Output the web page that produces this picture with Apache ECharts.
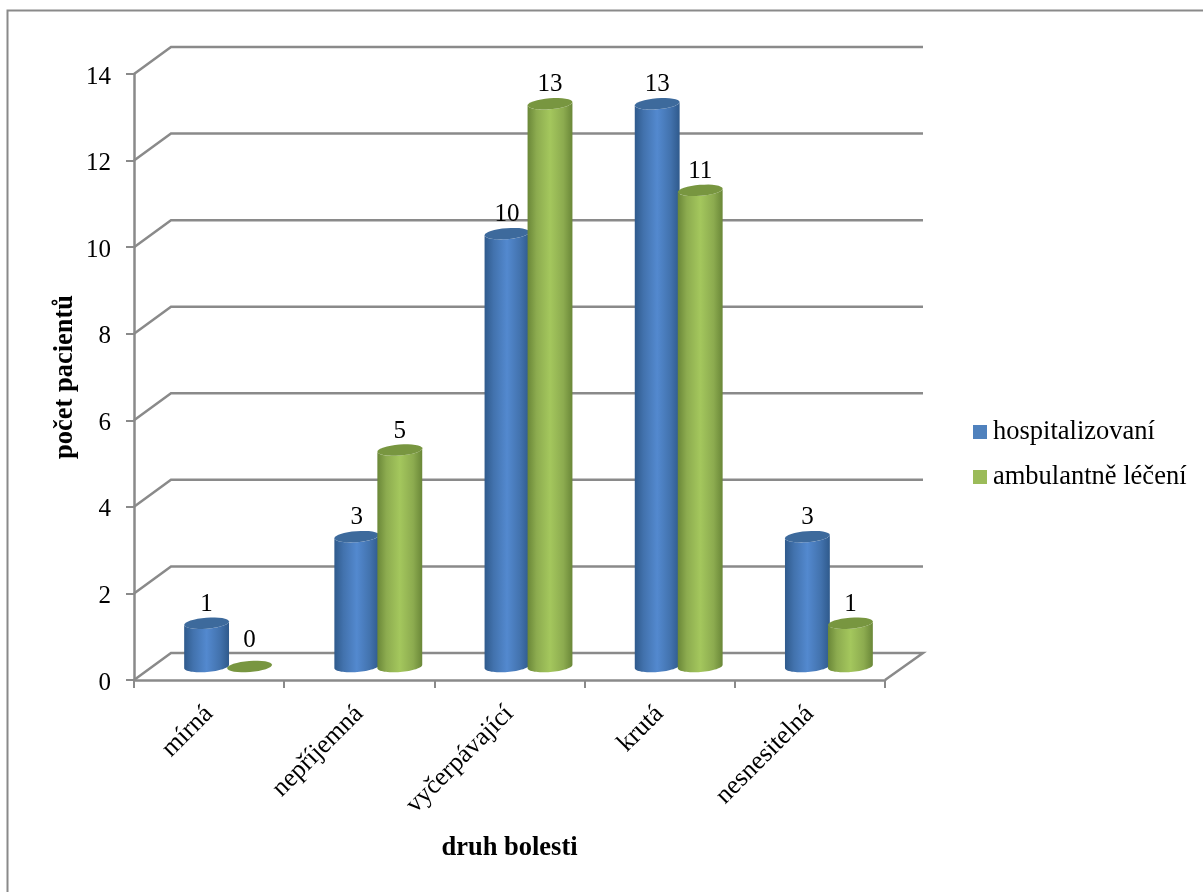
<!DOCTYPE html>
<html>
<head>
<meta charset="utf-8">
<style>html,body{margin:0;padding:0;background:#fff}#chart{width:1203px;height:892px}</style>
<script src="https://cdn.jsdelivr.net/npm/echarts@6/dist/echarts.min.js"></script>
</head>
<body>
<div id="chart"></div>
<script>
// Pain type vs. number of patients, drawn as pseudo-3D cylinders
const categories = ['mírná', 'nepříjemná', 'vyčerpávající', 'krutá', 'nesnesitelná'];
const hospitalizovani = [1, 3, 10, 13, 3];
const ambulantne = [0, 5, 13, 11, 1];
const gridValues = [0, 2, 4, 6, 8, 10, 12, 14];

const FONT = '"Liberation Serif", "Times New Roman", serif';
const AXIS = '#8a8a8a';
const WALL_DX = 37, WALL_DY = -27;      // back wall shift of the fake 3D box
const BAR_DX = 19, BAR_DY = -13.5;      // bars stand in the middle of the floor
const RX = 22.5, RY = 5.5, TILT = -4.5 * Math.PI / 180;

// Points on a tilted ellipse between two angles
function arc(cx, cy, from, to) {
  const pts = [], n = 32;
  for (let i = 0; i <= n; i++) {
    const a = from + (to - from) * i / n;
    const x = RX * Math.cos(a), y = RY * Math.sin(a);
    pts.push([cx + x * Math.cos(TILT) - y * Math.sin(TILT),
              cy + x * Math.sin(TILT) + y * Math.cos(TILT)]);
  }
  return pts;
}

function cylinderSeries(name, values, shift, capColor, stops) {
  return {
    name, type: 'custom', data: values.map((v, i) => [i, v]),
    encode: { x: 0, y: 1 }, clip: false, z: 3,
    itemStyle: { color: stops.legend },
    renderItem(params, api) {
      const v = api.value(1);
      const top = api.coord([api.value(0), v]);
      const base = api.coord([api.value(0), 0]);
      const cx = top[0] + BAR_DX + shift;
      const yTop = top[1] + BAR_DY, yBase = base[1] + BAR_DY;
      const children = [];
      if (v > 0) {
        children.push({
          type: 'polygon',
          shape: { points: arc(cx, yBase, Math.PI, 0).reverse().concat(arc(cx, yTop, 0, Math.PI).reverse()) },
          style: { fill: { type: 'linear', x: 0, y: 0, x2: 1, y2: 0, colorStops: stops.body } }
        });
      }
      children.push({
        type: 'polygon',
        shape: { points: arc(cx, yTop, 0, 2 * Math.PI) },
        style: { fill: capColor }
      });
      children.push({
        type: 'text',
        style: {
          x: cx, y: yTop - (v > 0 ? 19 : 26), text: String(v),
          font: '25px ' + FONT, fill: '#000', align: 'center', verticalAlign: 'middle'
        }
      });
      return { type: 'group', children };
    }
  };
}

const blueStops = {
  legend: '#4f81bd',
  body: [
    { offset: 0, color: '#2f5a8c' }, { offset: 0.2, color: '#4272ad' },
    { offset: 0.5, color: '#5389cf' }, { offset: 0.8, color: '#4272ad' },
    { offset: 1, color: '#2f5a8c' }
  ]
};
const greenStops = {
  legend: '#9bbb59',
  body: [
    { offset: 0, color: '#6a8738' }, { offset: 0.2, color: '#8cab4f' },
    { offset: 0.5, color: '#a4c75d' }, { offset: 0.8, color: '#8cab4f' },
    { offset: 1, color: '#6a8738' }
  ]
};

const chart = echarts.init(document.getElementById('chart'), null, { renderer: 'canvas' });
chart.setOption({
  animation: false,
  backgroundColor: '#fff',
  graphic: [{
    type: 'polyline', silent: true,
    shape: { points: [[7.5, 892], [7.5, 10.5], [1203, 10.5]] },
    style: { stroke: AXIS, lineWidth: 2, fill: 'none' }
  }],
  grid: { left: 134, top: 74, width: 751, height: 606, containLabel: false },
  legend: {
    show: true, orient: 'vertical', left: 968, top: 412,
    itemWidth: 14, itemHeight: 14, itemGap: 15, icon: 'rect',
    data: ['hospitalizovaní', 'ambulantně léčení'],
    textStyle: { fontFamily: FONT, fontSize: 26.5, color: '#000', padding: [0, 0, 0, 1], lineHeight: 30 }
  },
  xAxis: {
    type: 'category', data: categories,
    name: 'druh bolesti', nameLocation: 'middle', nameGap: 155,
    nameTextStyle: { fontFamily: FONT, fontSize: 26.5, fontWeight: 'bold', color: '#000' },
    axisLine: { lineStyle: { color: AXIS, width: 2.5 } },
    axisTick: { show: true, length: 8, lineStyle: { color: AXIS, width: 2 } },
    axisLabel: { rotate: 45, interval: 0, margin: 30, fontFamily: FONT, fontSize: 26, color: '#000' },
    splitLine: { show: false }
  },
  yAxis: {
    type: 'value', min: 0, max: 14, interval: 2,
    name: 'počet pacientů', nameLocation: 'middle', nameGap: 55, nameRotate: 90, nameMoveOverlap: false,
    nameTextStyle: { fontFamily: FONT, fontSize: 26.5, fontWeight: 'bold', color: '#000' },
    axisLine: { show: true, lineStyle: { color: AXIS, width: 2.5 } },
    axisTick: { show: true, length: 8, lineStyle: { color: AXIS, width: 2 } },
    axisLabel: {
      margin: 23, formatter: '{d|{value}}',
      rich: { d: { padding: [6, 0, 0, 0], fontFamily: FONT, fontSize: 25, color: '#000' } }
    },
    splitLine: { show: false }
  },
  series: [
    {
      name: 'stěny', type: 'custom', silent: true, clip: false, z: 1,
      data: gridValues.map(v => [0, v]), encode: { x: 0, y: 1 },
      renderItem(params, api) {
        const y = api.coord([0, api.value(1)])[1];
        const x0 = params.coordSys.x, x1 = x0 + params.coordSys.width;
        const points = [[x0, y], [x0 + WALL_DX, y + WALL_DY], [x1 + WALL_DX + 1, y + WALL_DY]];
        if (api.value(1) === 0) points.push([x1, y]);
        return { type: 'polyline', shape: { points }, style: { stroke: AXIS, lineWidth: 2.5, fill: 'none' } };
      }
    },
    cylinderSeries('hospitalizovaní', hospitalizovani, -21.5, '#3d6a9c', blueStops),
    cylinderSeries('ambulantně léčení', ambulantne, 21.5, '#789640', greenStops)
  ]
});
</script>
</body>
</html>
